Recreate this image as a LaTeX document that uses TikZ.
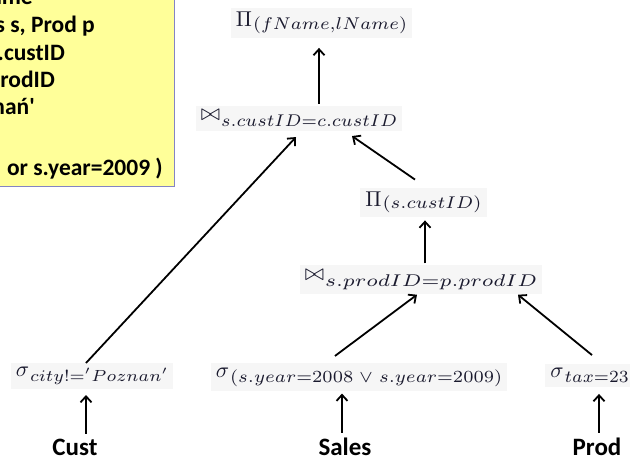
\documentclass[tikz,border=0pt]{standalone}
\usepackage[no-math]{fontspec}
\setmainfont{Carlito}
\usepackage{graphicx}
\usetikzlibrary{arrows.meta,calc,backgrounds}

\definecolor{notefill}{HTML}{FFFF99}
\definecolor{noteline}{HTML}{8484C4}
\definecolor{mathink}{HTML}{1A1A2E}
\definecolor{mathbg}{HTML}{F6F6F6}

% operator symbol (scaled by #1) followed by a subscript lowered by #2,
% set to width #4 and total height #5 (all in pt)
\newcommand{\opform}[6]{\mbox{\scalebox{#1}{$#3$}\kern1pt%
  \raisebox{-#2pt}{\resizebox*{#4pt}{#5pt}{$\scriptstyle #6$}}}}

\begin{document}
\begin{tikzpicture}[x=1pt,y=-1pt,
  expr/.style={inner sep=0pt, text=mathink},
  rel/.style={inner sep=0pt, font=\bfseries\fontsize{25}{30}\selectfont},
  sqlline/.style={anchor=base east, inner sep=0pt, font=\bfseries\fontsize{23.5}{28}\selectfont},
  notebox/.style={draw=noteline, fill=notefill, line width=1.5pt, inner sep=0pt,
                  minimum width=200pt, minimum height=210pt, anchor=south east},
  flow/.style={line width=1.8pt, -{Straight Barb[length=6pt,width=11pt]}},
]
\useasboundingbox (0,0) rectangle (630,459);

% SQL note, partly outside the visible area
\node[notebox] (sqlbox) at (175,187) {};
\node[sqlline] (q1) at (33,4)    {ame};
\node[sqlline] (q2) at (95,32)   {s s, Prod p};
\node[sqlline] (q3) at (65,60)   {.custID};
\node[sqlline] (q4) at (55,87.5) {rodID};
\node[sqlline] (q5) at (35,114)  {nań\textquotesingle};
\node[sqlline] (q7) at (163,175) {or s.year=2009 )};

% query tree operators
\node[expr] (P1) at (321.5,23)    {\opform{2.15}{2.5}{\Pi}{154}{17}{(fName,lName)}};
\node[expr] (J1) at (299,118.5)   {\opform{2.3}{6}{\bowtie}{176}{11.6}{s.custID=c.custID}};
\node[expr] (P2) at (423.5,202.5) {\opform{2.15}{2.5}{\Pi}{99}{17}{(s.custID)}};
\node[expr] (J2) at (421,279.5)   {\opform{2.3}{6}{\bowtie}{212}{15.1}{s.prodID=p.prodID}};
\node[expr] (S1) at (92,376)      {\opform{2.2}{5}{\sigma}{138}{16.5}{city!='Poznan'}};
\node[expr] (S2) at (359,377)     {\opform{2.2}{5}{\sigma}{272}{17}{(s.year=2008\;\vee\;s.year=2009)}};
\node[expr] (S3) at (589.5,375.5) {\opform{2.2}{5}{\sigma}{64}{11}{tax=23}};

% base relations
\node[rel] (cust)  at (75,447)  {Cust};
\node[rel] (sales) at (345,447) {Sales};
\node[rel] (prod)  at (597,447) {Prod};

% light panels behind the formulas
\begin{scope}[on background layer]
  \foreach \n in {P1,J1,P2,J2,S1,S2,S3}
    \fill[mathbg] ($(\n.south west)+(-5,4)$) rectangle ($(\n.north east)+(5,-4)$);
\end{scope}

% data flow
\draw[flow] ($(cust.north)+(11,-5)$)   -- ($(S1.south)+(-6,10)$);
\draw[flow] ($(sales.north)+(-3,-5)$)  -- ($(S2.south)+(-17,7)$);
\draw[flow] ($(prod.north)+(2,-5)$)    -- ($(S3.south)+(9.5,11)$);
\draw[flow] ($(S1.north)+(-6,-4)$)     -- ($(J1.south)+(-3,10)$);
\draw[flow] ($(S2.north)+(-24,-11.5)$) -- ($(J2.south)+(-4,5)$);
\draw[flow] ($(S3.north)+(2.5,-13)$)   -- ($(J2.south)+(97,5)$);
\draw[flow] ($(J2.north)+(4,-6)$)      -- ($(P2.south)+(1.5,7)$);
\draw[flow] ($(P2.north)+(-8.5,-12)$)  -- ($(J1.south)+(53,9)$);
\draw[flow] ($(J1.north)+(20,-6)$)     -- ($(P1.south)+(-2.5,14)$);
\end{tikzpicture}
\end{document}
